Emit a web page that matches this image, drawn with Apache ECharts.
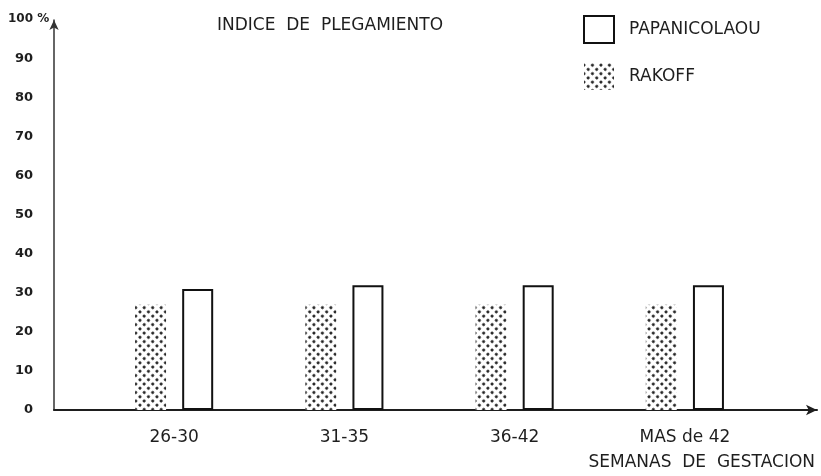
<!DOCTYPE html>
<html>
<head>
<meta charset="utf-8">
<script src="https://cdn.jsdelivr.net/npm/echarts@6/dist/echarts.min.js"></script>
<style>html,body{margin:0;padding:0;background:#fff;}#c{width:821px;height:476px;}</style>
</head>
<body>
<div id="c"></div>
<script>
const categories = ['26-30', '31-35', '36-42', 'MAS de 42'];
const rakoff = [27, 27, 27, 27];
const papanicolaou = [31, 32, 32, 32];
const seriesNames = ['RAKOFF', 'PAPANICOLAOU'];
const titleText = 'INDICE  DE  PLEGAMIENTO';
const xName = 'SEMANAS  DE  GESTACION';

const FONT = 'DejaVu Sans';
const INK = '#1e1e1e';
const chart = echarts.init(document.getElementById('c'), null, {renderer: 'canvas'});

const dotDecal = {
  symbol: 'circle',
  symbolSize: 1,
  color: 'rgba(0,0,0,0.9)',
  dashArrayX: [2.1, 2.3],
  dashArrayY: [2.1, 2.3],
  rotation: Math.PI / 4
};

chart.setOption({
  animation: false,
  backgroundColor: '#fff',
  title: {
    text: titleText, left: 217, top: 17, padding: 0,
    textStyle: {fontFamily: FONT, fontSize: 17, fontWeight: 'normal', color: INK}
  },
  legend: {
    data: [{name: 'PAPANICOLAOU', icon: 'rect'}, {name: 'RAKOFF', icon: 'rect'}],
    orient: 'vertical', left: 583, top: 15, padding: 0,
    itemWidth: 30, itemHeight: 27, itemGap: 19,
    textStyle: {fontFamily: FONT, fontSize: 17, color: INK, padding: [5, 0, 0, 10]}
  },
  grid: [
    {left: 89, right: 51, top: 20, bottom: 66},
    {left: 54, right: 4, top: 20, bottom: 66}
  ],
  xAxis: [
    {
      type: 'category', gridIndex: 0, data: categories,
      axisLine: {show: false}, axisTick: {show: false},
      axisLabel: {fontFamily: FONT, fontSize: 17, color: INK, margin: 19}
    },
    {
      type: 'value', gridIndex: 1, min: 0, max: 1,
      axisLine: {show: true, lineStyle: {color: INK, width: 2}, symbol: ['none', 'arrow'], symbolSize: [8, 11]},
      axisTick: {show: false}, axisLabel: {show: false}, splitLine: {show: false}
    }
  ],
  yAxis: [
    {type: 'value', gridIndex: 0, min: 0, max: 100, interval: 10, show: false},
    {
      type: 'value', gridIndex: 1, min: 0, max: 100, interval: 10,
      axisLine: {show: true, lineStyle: {color: '#333', width: 1.5}, symbol: ['none', 'arrow'], symbolSize: [7, 10]},
      axisTick: {show: false}, splitLine: {show: false},
      axisLabel: {
        fontFamily: FONT, fontSize: 13, fontWeight: 'bold', color: INK, margin: 21,
        formatter: v => (v === 100 ? '' : String(v))
      }
    }
  ],
  graphic: [
    {type: 'text', left: 8, top: 13, style: {text: '100 %', font: 'bold 12px "DejaVu Sans"', fill: INK}},
    {type: 'text', right: 6, top: 454, style: {text: xName, font: '17px "DejaVu Sans"', fill: INK}}
  ],
  series: [
    {
      name: seriesNames[0], type: 'bar', xAxisIndex: 0, yAxisIndex: 0,
      data: rakoff, barWidth: 31, barGap: '52%',
      itemStyle: {color: '#fff', decal: dotDecal}
    },
    {
      name: seriesNames[1], type: 'bar', xAxisIndex: 0, yAxisIndex: 0,
      data: papanicolaou, barWidth: 31,
      itemStyle: {color: '#fff', borderColor: '#111', borderWidth: 2}
    }
  ]
});
</script>
</body>
</html>
